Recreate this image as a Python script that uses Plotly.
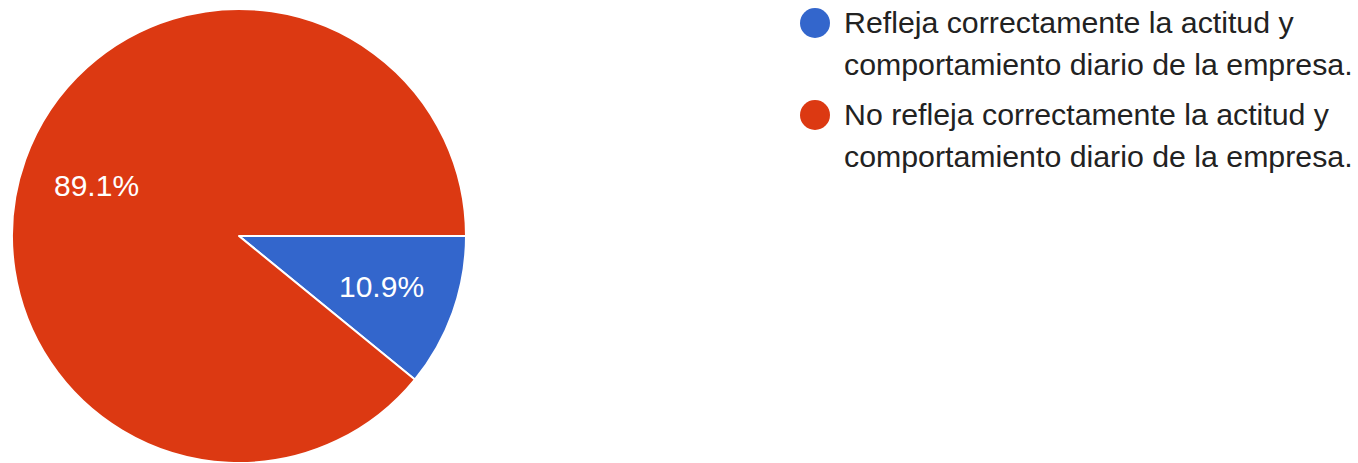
import math
import plotly.graph_objects as go

labels = [
    "Refleja correctamente la actitud y<br>comportamiento diario de la empresa.",
    "No refleja correctamente la actitud y<br>comportamiento diario de la empresa.",
]
values = [10.9, 89.1]
colors = ["#3366CC", "#DC3912"]

W, H = 1358, 463
FONT = "Liberation Sans, Arial, sans-serif"

# pie geometry (pixels)
CX, CY, R = 239, 236, 227
ROT = 90  # degrees, clockwise from 12 o'clock

fig = go.Figure()
fig.add_trace(go.Pie(
    labels=labels,
    values=values,
    sort=False,
    direction="clockwise",
    rotation=ROT,
    marker=dict(colors=colors, line=dict(color="white", width=2)),
    textinfo="none",
    domain=dict(x=[(CX - R) / W, (CX + R) / W], y=[1 - (CY + R) / H, 1 - (CY - R) / H]),
    showlegend=False,
    hoverinfo="label+percent",
))

annotations = []
shapes = []

# percentage labels placed at the middle angle of each slice
total = sum(values)
cum = 0.0
for v in values:
    mid = (cum + v / 2) / total
    cum += v
    theta = math.radians(ROT + 360 * mid)
    px = CX + 0.667 * R * math.sin(theta)
    py = CY - 0.667 * R * math.cos(theta)
    annotations.append(dict(
        text=f"{100 * v / total:.1f}%", xref="paper", yref="paper",
        x=px / W, y=1 - py / H, xanchor="center", yanchor="middle",
        showarrow=False, font=dict(size=30, color="white", family=FONT),
    ))

# Legend: circle swatches + text, one entry per label
legend_x = 842
circle_cx = 815
circle_r = 15
item_cy = [23, 115]
line_gap = 42
for lab, col, cy in zip(labels, colors, item_cy):
    shapes.append(dict(
        type="circle", xref="paper", yref="paper",
        x0=(circle_cx - circle_r) / W, x1=(circle_cx + circle_r) / W,
        y0=1 - (cy + circle_r) / H, y1=1 - (cy - circle_r) / H,
        fillcolor=col, line=dict(width=0),
    ))
    for j, line in enumerate(lab.split("<br>")):
        top = cy - 19 + j * line_gap
        annotations.append(dict(
            text=line, xref="paper", yref="paper",
            x=legend_x / W, y=1 - top / H,
            xanchor="left", yanchor="top", align="left",
            showarrow=False,
            font=dict(size=30.3, color="#222222", family=FONT),
        ))

fig.update_layout(
    width=W, height=H,
    margin=dict(l=0, r=0, t=0, b=0),
    paper_bgcolor="white",
    plot_bgcolor="white",
    shapes=shapes,
    annotations=annotations,
    font=dict(family=FONT),
)

fig.write_html(
    "out.html",
    config={"displayModeBar": False},
    post_script="document.body.style.margin='0';document.body.style.overflow='hidden';",
)
